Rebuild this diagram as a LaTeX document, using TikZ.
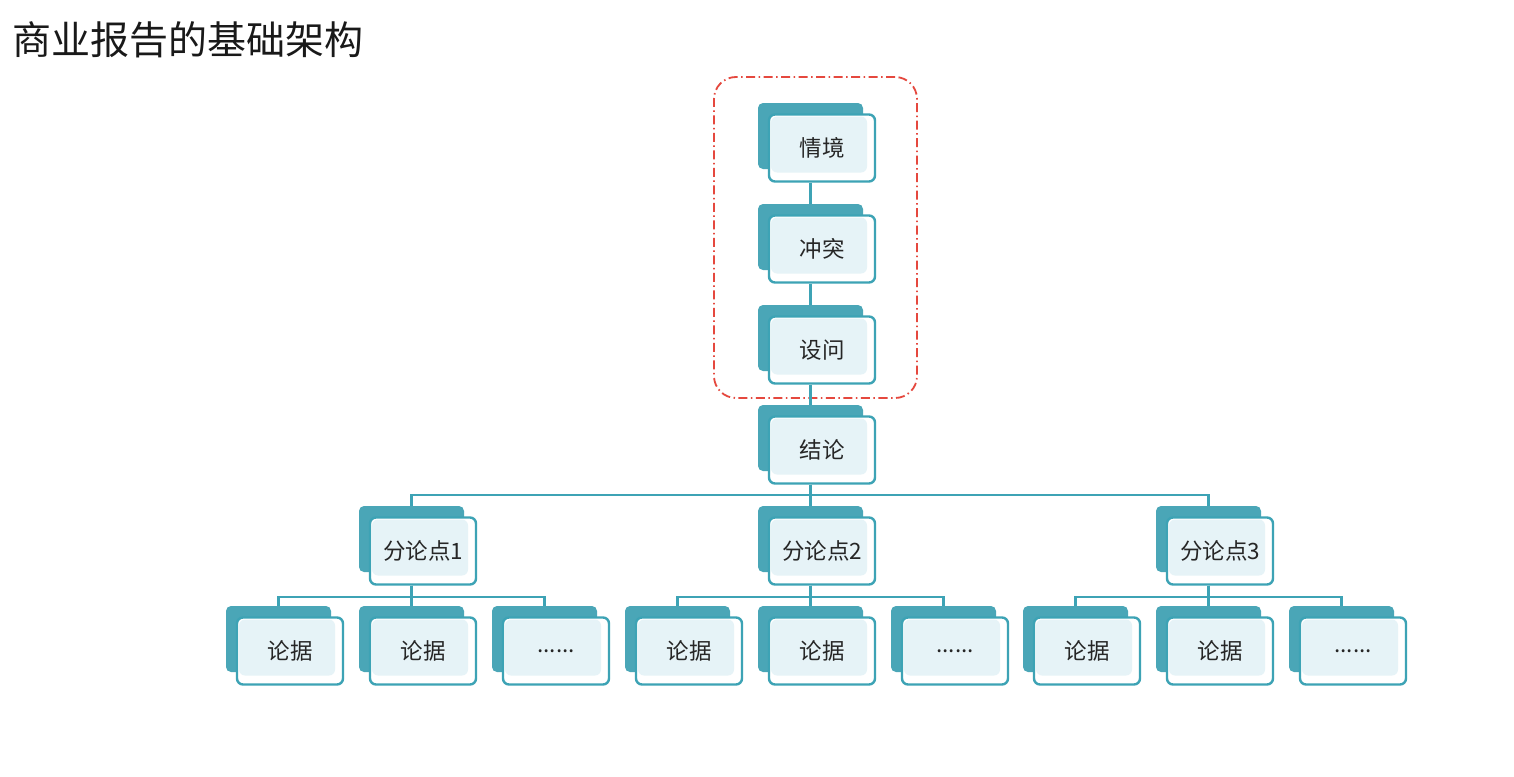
\documentclass[tikz,border=0pt]{standalone}
\usepackage{fontspec}
\setmainfont{Noto Sans CJK SC}
\usetikzlibrary{calc}
\definecolor{tealline}{HTML}{3DA3B5}
\definecolor{tealback}{HTML}{4AA6B7}
\definecolor{lightfill}{HTML}{E6F3F7}
\definecolor{redline}{HTML}{E5483E}
\definecolor{txt}{HTML}{262626}
\tikzset{
  backcard/.style={fill=tealback, rounded corners=5pt, minimum width=105pt, minimum height=66pt, inner sep=0pt},
  frontcard/.style={draw=tealline, line width=2.4pt, fill=white, rounded corners=6pt,
    minimum width=106pt, minimum height=67pt, inner sep=0pt, text=txt,
    font=\fontsize{22.5}{24}\selectfont,
    path picture={\fill[lightfill] ([xshift=2pt,yshift=-2pt]path picture bounding box.north west) rectangle ([xshift=-8pt,yshift=9pt]path picture bounding box.south east);}},
  link/.style={draw=tealline, line width=2.4pt},
  groupbox/.style={draw=redline, line width=1.8pt, rounded corners=22pt, dash pattern=on 9pt off 3.5pt on 1.5pt off 3.5pt,
    minimum width=203pt, minimum height=321pt, inner sep=0pt},
  titletext/.style={anchor=west, inner sep=0pt, text=black!90, font=\fontsize{39}{42}\selectfont},
}
\newcommand{\card}[4]{%
  \node[backcard] (#1-b) at (#2-11.5, #3-12) {};
  \node[frontcard] (#1) at (#2,#3) {#4};
}
\begin{document}
\begin{tikzpicture}[x=1pt,y=-1pt]
\fill[white] (0,0) rectangle (1514,776);
\useasboundingbox (0,0) rectangle (1514,776);
\node[titletext] (title) at (12,40) {商业报告的基础架构};
\node[groupbox] (grp) at (815.5,237.5) {};
% cards
\card{s1}{822}{148}{情境}
\card{s2}{822}{249}{冲突}
\card{s3}{822}{350}{设问}
\card{c}{822}{450}{结论}
\card{p1}{423}{551}{分论点1}
\card{p2}{822}{551}{分论点2}
\card{p3}{1220}{551}{分论点3}
\card{e11}{290}{651}{论据}
\card{e12}{423}{651}{论据}
\card{e13}{556}{651}{......}
\card{e21}{689}{651}{论据}
\card{e22}{822}{651}{论据}
\card{e23}{955}{651}{......}
\card{e31}{1087}{651}{论据}
\card{e32}{1220}{651}{论据}
\card{e33}{1353}{651}{......}
% connectors
\draw[link] (s1-b |- s1.south) -- (s2-b.north);
\draw[link] (s2-b |- s2.south) -- (s3-b.north);
\draw[link] (s3-b |- s3.south) -- (c-b.north);
\foreach \p in {p1,p2,p3}{
  \draw[link] (c-b |- c.south) -- ++(0,10) -| (\p-b.north);
}
\foreach \p/\k in {p1/1,p2/2,p3/3}{
  \foreach \j in {1,2,3}{
    \draw[link] (\p-b |- \p.south) -- ++(0,11) -| (e\k\j-b.north);
  }
}
\end{tikzpicture}
\end{document}
